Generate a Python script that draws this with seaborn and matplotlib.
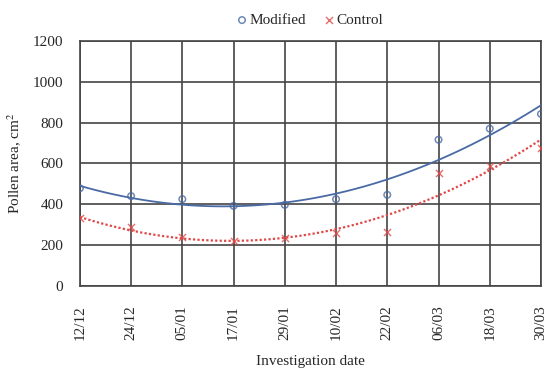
import numpy as np
import matplotlib
matplotlib.use("Agg")
import matplotlib.pyplot as plt
import seaborn as sns

dates = ['12/12', '24/12', '05/01', '17/01', '29/01', '10/02', '22/02', '06/03', '18/03', '30/03']
modified = [478, 440, 425, 392, 397, 425, 446, 716, 770, 842]
control = [331, 287, 238, 218, 234, 260, 265, 555, 588, 675]

sns.set_style("white")
plt.rcParams['font.family'] = ['Liberation Serif', 'DejaVu Serif']
plt.rcParams['mathtext.fontset'] = 'stix'

blue = '#4a6aa5'
red = '#e04848'

fig = plt.figure(figsize=(5.47, 3.68), dpi=100)
ax = fig.add_axes([0.146, 0.223, 0.843, 0.666])

pos = np.arange(len(dates))

sns.regplot(x=pos, y=modified, order=2, ci=None, ax=ax, truncate=True, marker='o',
            scatter_kws=dict(s=22, facecolors='none', edgecolors=blue, linewidths=1.1, zorder=4),
            line_kws=dict(color=blue, lw=1.3, zorder=3), label='Modified')
sns.regplot(x=pos, y=control, order=2, ci=None, ax=ax, truncate=True, marker='x',
            scatter_kws=dict(s=26, color=red, linewidths=1.0, zorder=4),
            line_kws=dict(color=red, lw=1.6, ls=(0, (1, 1)), zorder=3), label='Control')

ax.set_xlim(0, 9)
ax.set_ylim(0, 1200)
ax.set_yticks(range(0, 1201, 200))
ax.set_xticks(pos)
ax.set_xticklabels(dates, rotation=90, fontsize=11)
ax.tick_params(axis='x', pad=14, length=0)
ax.tick_params(axis='y', labelsize=11, length=0, pad=12)
ax.grid(True, color='#444444', lw=1.2)
ax.set_axisbelow(True)
for s in ax.spines.values():
    s.set_color('#444444')
    s.set_linewidth(1.2)

ax.set_ylabel('Pollen area, cm$^2$', fontsize=11, labelpad=6)
ax.set_xlabel('Investigation date', fontsize=11, labelpad=11)

h, l = ax.get_legend_handles_labels()
ax.legend(h, l, loc='lower center', bbox_to_anchor=(0.5, 1.0), ncol=2, frameon=False,
          fontsize=11, handlelength=0.6, handletextpad=0.2, columnspacing=1.2, borderaxespad=0.5)

fig.savefig('out.png', dpi=100)
